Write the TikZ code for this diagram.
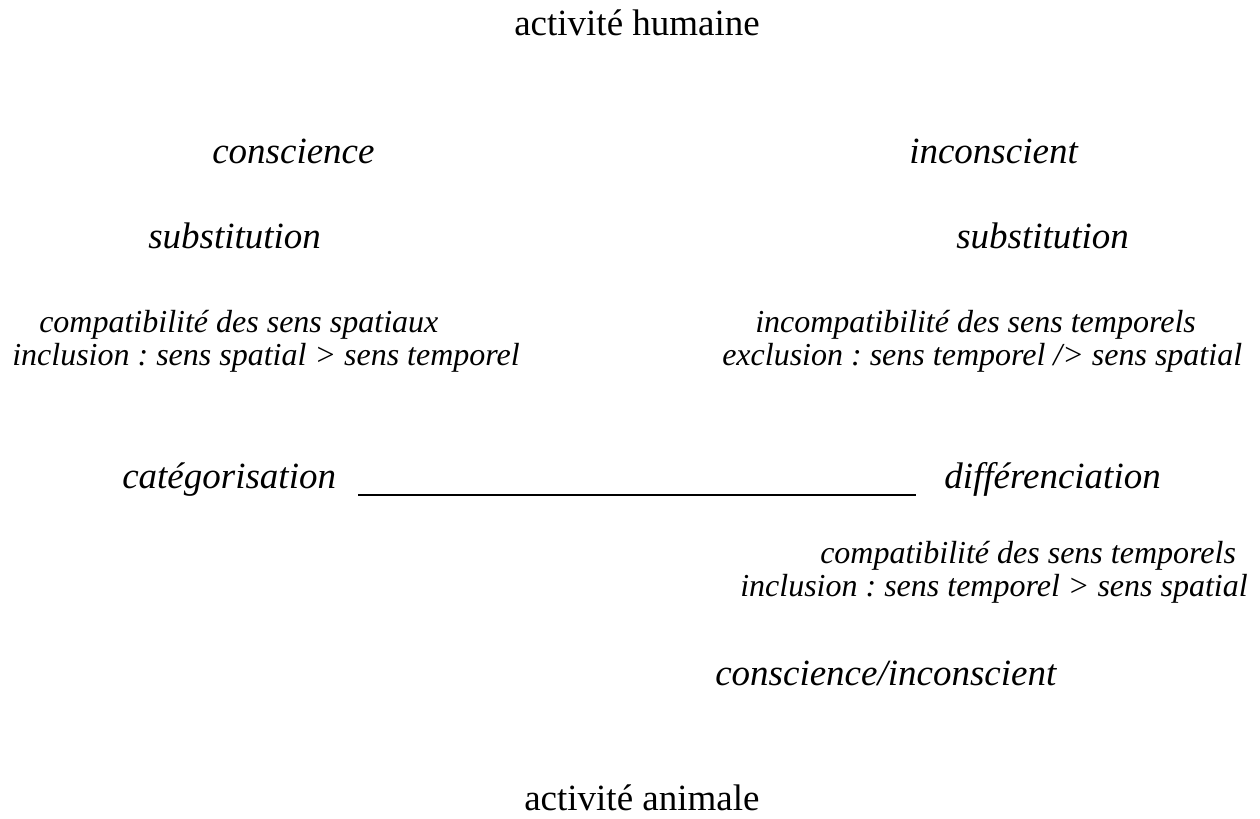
\documentclass[tikz,border=0pt]{standalone}
\usepackage{fontspec}
\setmainfont{Liberation Serif}
\usetikzlibrary{calc}
\frenchspacing
\tikzset{
  titre/.style={anchor=base west,inner sep=0pt,font=\fontsize{27.75}{33}\selectfont},
  terme/.style={anchor=base west,inner sep=0pt,font=\fontsize{27.75}{33}\selectfont\itshape},
  glose/.style={anchor=base west,inner sep=0pt,font=\fontsize{24}{33}\selectfont\itshape},
  trait/.style={line width=1.6pt}
}
\begin{document}
\begin{tikzpicture}[x=0.75pt,y=0.75pt,yscale=-1,xscale=1]
                \useasboundingbox (0,0) rectangle (1260,818);
                \node (hum) at (514,35) [titre] {activité humaine};
                \node (consc) at (212,163) [terme] {conscience};
                \node (inconsc) at (909,163) [terme] {inconscient};
                \node (substg) at (148,248) [terme] {substitution};
                \node (substd) at (956,248) [terme] {substitution};
                \node (compatsp) at (39,332) [glose] {compatibilité des sens spatiaux};
                \node (inclsp) at (12,365) [glose] {inclusion : sens spatial > sens temporel};
                \node (incompat) at (755,332) [glose] {incompatibilité des sens temporels};
                \node (excl) at (722,365) [glose] {exclusion : sens temporel /> sens spatial};
                \node (cat) at (122,488) [terme] {catégorisation};
                \node (diff) at (944,488) [terme] {différenciation};
                \node (compattp) at (820,563) [glose] {compatibilité des sens temporels};
                \node (incltp) at (740,596) [glose] {inclusion : sens temporel > sens spatial};
                \node (ci) at (715,685) [terme] {conscience/inconscient};
                \node (anim) at (524,810) [titre] {activité animale};
                \draw [trait] ($(cat.base east)+(22,7)$) -- ($(diff.base west)+(-28,7)$) ;
\end{tikzpicture}
\end{document}
